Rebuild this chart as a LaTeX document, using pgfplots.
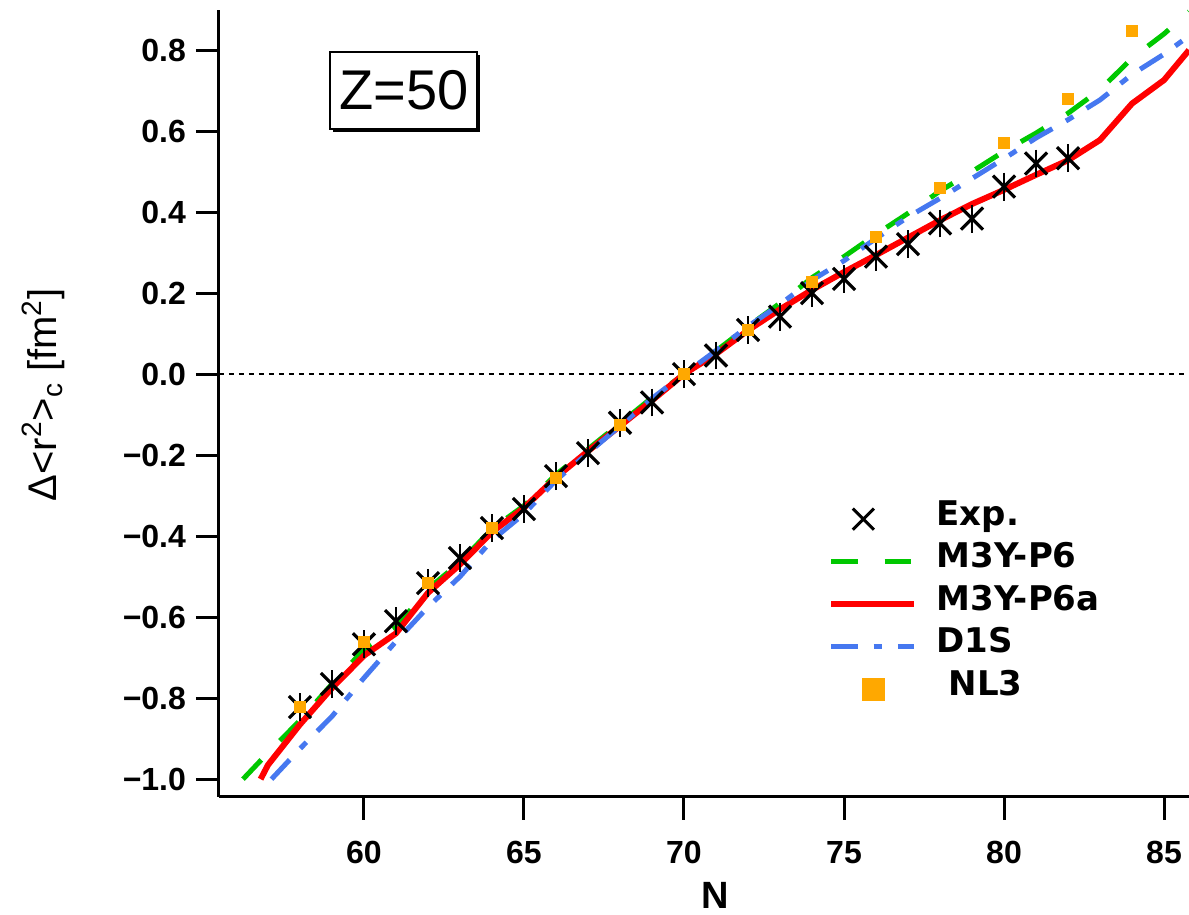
\documentclass[border=0pt]{standalone}
\usepackage{fontspec}
\setmainfont{Liberation Sans}
\newfontfamily\legfont{DejaVu Sans}
\usepackage{pgfplots}
\pgfplotsset{compat=1.18}
\usetikzlibrary{shadows}

\definecolor{mgreen}{RGB}{0,200,0}
\definecolor{mred}{RGB}{255,0,0}
\definecolor{mblue}{RGB}{70,120,240}
\definecolor{morange}{RGB}{255,168,0}

% Exp. data (N, delta r^2)
\pgfplotstableread{
N   r2
58 -0.822
59 -0.765
60 -0.667
61 -0.610
62 -0.516
63 -0.454
64 -0.380
65 -0.333
66 -0.252
67 -0.195
68 -0.120
69 -0.070
70  0.000
71  0.046
72  0.109
73  0.142
74  0.200
75  0.235
76  0.290
77  0.321
78  0.372
79  0.384
80  0.463
81  0.520
82  0.533
}\expdata

\pgfplotstableread{
N   r2
58 -0.822
60 -0.662
62 -0.516
64 -0.380
66 -0.255
68 -0.126
70  0.000
72  0.109
74  0.228
76  0.339
78  0.459
80  0.570
82  0.680
84  0.848
}\nlthree

\pgfplotstableread{
N   r2
56.22 -1.000
57 -0.935
58 -0.855
59 -0.765
60 -0.680
61 -0.625
62 -0.530
63 -0.465
64 -0.382
65 -0.325
66 -0.248
67 -0.185
68 -0.122
69 -0.058
70  0.000
71  0.057
72  0.118
73  0.175
74  0.238
75  0.290
76  0.345
77  0.397
78  0.452
79  0.500
80  0.550
81  0.595
82  0.644
83  0.702
84  0.780
85  0.840
85.78 0.895
}\mthreey

\pgfplotstableread{
N   r2
56.77 -1.000
57 -0.965
58 -0.865
59 -0.775
60 -0.695
61 -0.640
62 -0.540
63 -0.470
64 -0.390
65 -0.330
66 -0.255
67 -0.190
68 -0.128
69 -0.065
70  0.000
71  0.050
72  0.108
73  0.160
74  0.208
75  0.252
76  0.294
77  0.337
78  0.380
79  0.420
80  0.455
81  0.492
82  0.528
83  0.578
84  0.668
85  0.726
85.78 0.800
}\mthreeya

\pgfplotstableread{
N   r2
57.11 -1.000
58 -0.925
59 -0.845
60 -0.750
61 -0.660
62 -0.575
63 -0.500
64 -0.410
65 -0.345
66 -0.262
67 -0.195
68 -0.128
69 -0.060
70  0.000
71  0.058
72  0.118
73  0.172
74  0.232
75  0.280
76  0.335
77  0.388
78  0.434
79  0.483
80  0.532
81  0.583
82  0.628
83  0.677
84  0.740
85  0.790
85.78 0.835
}\dones

\begin{document}
\begin{tikzpicture}
\begin{axis}[
  scale only axis,
  width=485pt, height=393.5pt,
  xmin=55.47, xmax=85.78,
  ymin=-1.044, ymax=0.899,
  axis x line*=bottom, axis y line*=left,
  axis line style={line width=1.5pt, black},
  tick align=outside,
  major tick length=11.5pt,
  tick style={line width=1.5pt, black},
  xtick={60,65,70,75,80,85},
  xticklabels={60,65,70,75,80,85},
  ytick={-1,-0.8,-0.6,-0.4,-0.2,0,0.2,0.4,0.6,0.8},
  yticklabels={−1.0,−0.8,−0.6,−0.4,−0.2,0.0,0.2,0.4,0.6,0.8},
  ticklabel style={font=\bfseries\fontsize{16}{16}\selectfont},
  xticklabel style={yshift=-7pt},
  yticklabel style={xshift=-1.5pt},
  xlabel={N},
  xlabel style={font=\bfseries\fontsize{19}{19}\selectfont,
    at={(rel axis cs:0.5113,-0.1075)}, anchor=north, inner sep=0pt},
  ylabel={Δ<r\textsuperscript{2}>\textsubscript{c} [fm\textsuperscript{2}]},
  ylabel style={font=\fontsize{20}{20}\selectfont,
    at={(rel axis cs:-0.1588,0.5108)}, anchor=south, inner sep=0pt},
  legend cell align=left,
  legend style={draw=none, fill=none, at={(0.6278,0.3806)}, anchor=north west,
    inner sep=0pt, column sep=10pt, row sep=0pt,
    font=\legfont\bfseries\fontsize{17}{17}\selectfont,
    nodes={inner sep=0pt, text height=13.75pt, text depth=7.5pt}},
]
% zero line
\addplot[forget plot, black, line width=1pt, dash pattern=on 2.5pt off 2.5pt]
  coordinates {(55.47,0) (85.78,0)};

\addplot[forget plot, mgreen, line width=2.5pt, dash pattern=on 13.3pt off 13.3pt]
  table[x=N, y=r2] {\mthreey};
\addplot[forget plot, mred, line width=3pt]
  table[x=N, y=r2] {\mthreeya};
\addplot[forget plot, mblue, line width=2.5pt,
  dash pattern=on 13.3pt off 7.8pt on 4.3pt off 7.8pt]
  table[x=N, y=r2] {\dones};

\addplot[forget plot, only marks, black, mark=x, mark size=7.8pt, line width=1.6pt,
  error bars/.cd, y dir=both, y fixed=0.006,
  error mark options={black, line width=1.1pt, mark size=5.75pt}]
  table[x=N, y=r2] {\expdata};
\addplot[forget plot, only marks, morange, mark=square*, mark size=2.75pt,
  mark options={draw=morange, fill=morange}]
  table[x=N, y=r2] {\nlthree};

\addlegendimage{legend image code/.code={
  \draw[black, line width=1.5pt] plot[only marks, mark=x, mark size=7.5pt]
    coordinates {(16pt,0pt)};}}
\addlegendimage{legend image code/.code={
  \draw[mgreen, line width=2.5pt, dash pattern=on 13.3pt off 13.3pt]
    (0pt,0pt) -- (40pt,0pt);}}
\addlegendimage{legend image code/.code={
  \draw[mred, line width=3pt] (0pt,0pt) -- (41.2pt,0pt);}}
\addlegendimage{legend image code/.code={
  \draw[mblue, line width=2.5pt, dash pattern=on 13.3pt off 7.8pt on 4.3pt off 7.8pt]
    (0pt,0pt) -- (41.2pt,0pt);}}
\addlegendimage{legend image code/.code={
  \fill[morange] (15.6pt,-5.4pt) rectangle (26.4pt,5.4pt);}}
\legend{Exp., M3Y-P6, M3Y-P6a, D1S, \ NL3}

\node[draw=black, line width=1pt, fill=white,
  general shadow={fill=black, shadow xshift=1.5pt, shadow yshift=-1.5pt},
  minimum width=73.5pt, minimum height=38.5pt, inner sep=0pt,
  font=\fontsize{28}{28}\selectfont] at (axis cs:61.25,0.701) {Z=50};
\end{axis}
\pgfresetboundingbox
\path[use as bounding box]
  ([xshift=-109.5pt,yshift=-59pt]current axis.south west)
  rectangle ([yshift=5pt]current axis.north east);
\end{tikzpicture}
\end{document}
